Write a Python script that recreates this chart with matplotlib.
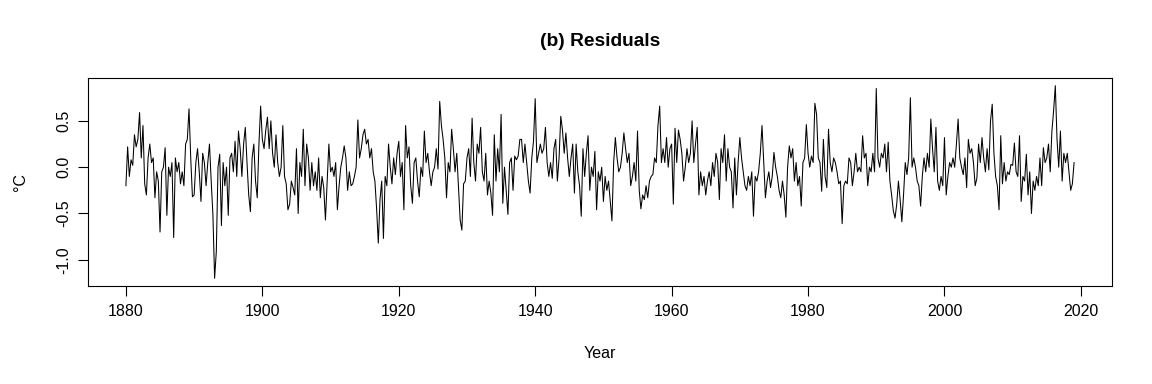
import numpy as np
import matplotlib
matplotlib.use("Agg")
import matplotlib.pyplot as plt

# Residuals (°C) at about four values per year, starting 1880.0
res_1880s = [-0.20, 0.22, -0.10, 0.08, 0.02, 0.35, 0.22, 0.30, 0.59, 0.10, 0.45, -0.18,
             -0.30, 0.10, 0.25, 0.05, 0.10, -0.33, -0.05, -0.15, -0.70, -0.05, 0.00, 0.21,
             -0.52, 0.00, -0.10, 0.05, -0.76, 0.10, -0.05, 0.05, -0.18, -0.05, -0.20, 0.25,
             0.30, 0.63, 0.10, -0.32]
res_1890s = [-0.30, 0.05, 0.20, -0.05, -0.37, 0.15, 0.05, -0.20, 0.05, 0.25, -0.15, -0.51,
             -1.20, -0.91, 0.00, 0.14, -0.63, 0.05, -0.20, 0.00, -0.52, 0.10, 0.15, -0.05,
             0.28, -0.10, 0.39, 0.20, -0.10, 0.25, 0.43, 0.05, -0.30, -0.48, 0.10, 0.25,
             -0.15, -0.33, 0.25, 0.66]
res_1900s = [0.30, 0.20, 0.40, 0.54, 0.20, 0.50, 0.15, 0.00, 0.35, 0.05, -0.10, 0.00,
             0.45, -0.10, -0.18, -0.46, -0.40, -0.15, -0.22, -0.30, 0.20, -0.50, 0.05, -0.10,
             0.41, -0.20, 0.25, 0.10, -0.25, 0.05, -0.20, -0.05, -0.25, 0.10, -0.33, -0.10,
             -0.22, -0.57, -0.15, 0.25]
res_1910s = [-0.05, 0.00, -0.10, 0.05, -0.46, -0.20, 0.00, 0.10, 0.23, 0.10, -0.25, -0.05,
             -0.20, -0.18, -0.10, 0.00, 0.51, 0.10, 0.20, 0.35, 0.41, 0.25, 0.30, 0.10,
             0.20, -0.05, -0.15, -0.45, -0.82, -0.35, -0.15, -0.77, -0.10, -0.20, 0.25, 0.00,
             -0.18, 0.10, -0.08, 0.15]
res_1920s = [0.28, -0.10, 0.05, -0.46, 0.45, 0.10, 0.22, -0.20, -0.39, 0.05, 0.10, -0.15,
             -0.32, 0.00, -0.10, 0.39, 0.05, 0.15, -0.05, -0.20, -0.05, 0.00, 0.20, -0.02,
             0.71, 0.45, 0.30, 0.10, -0.33, 0.05, -0.05, 0.41, 0.20, -0.05, 0.15, -0.20,
             -0.57, -0.68, -0.18, -0.15]
res_1930s = [0.10, 0.20, -0.10, 0.53, 0.05, -0.15, 0.25, 0.15, 0.43, -0.05, -0.15, 0.15,
             -0.30, -0.15, -0.28, -0.52, 0.35, -0.15, 0.20, -0.05, 0.57, -0.39, 0.00, -0.25,
             -0.51, 0.05, 0.10, -0.25, 0.12, 0.08, 0.12, 0.30, 0.30, 0.05, 0.25, 0.05,
             -0.15, -0.28, 0.10, 0.28]
res_1940s = [0.74, 0.05, 0.15, 0.25, 0.15, 0.20, 0.43, 0.05, -0.10, 0.05, -0.12, 0.20,
             0.30, -0.15, 0.10, 0.55, 0.40, 0.15, 0.37, 0.10, -0.10, 0.10, 0.25, -0.28,
             0.25, -0.05, -0.20, -0.53, 0.20, -0.10, 0.15, 0.34, -0.25, 0.00, -0.10, 0.17,
             -0.46, -0.05, -0.15, 0.00]
res_1950s = [-0.37, -0.10, -0.25, -0.15, -0.37, -0.58, 0.05, 0.32, 0.10, -0.05, 0.00, 0.15,
             0.37, 0.20, 0.05, 0.15, -0.20, -0.10, 0.05, -0.15, 0.39, -0.25, -0.45, -0.30,
             -0.35, -0.20, -0.33, -0.15, -0.10, -0.08, 0.10, 0.05, 0.45, 0.66, 0.05, 0.20,
             0.05, 0.32, 0.00, 0.20]
res_1960s = [0.25, -0.40, 0.42, 0.05, 0.40, 0.30, 0.15, -0.15, 0.00, 0.20, 0.05, 0.15,
             0.50, 0.05, 0.25, 0.43, -0.30, -0.05, -0.20, -0.10, -0.30, -0.15, -0.05, -0.20,
             0.05, -0.10, 0.15, 0.05, -0.35, 0.20, 0.05, 0.35, -0.15, 0.20, 0.00, -0.05,
             -0.44, 0.10, -0.30, 0.05]
res_1970s = [0.32, 0.10, -0.05, -0.20, -0.25, -0.10, -0.20, -0.05, -0.53, -0.10, -0.15, -0.05,
             0.15, 0.45, 0.05, -0.33, -0.15, -0.05, -0.22, -0.10, 0.16, 0.00, -0.10, -0.25,
             -0.33, -0.15, -0.30, -0.54, 0.00, 0.23, 0.10, 0.20, -0.15, 0.05, -0.20, -0.10,
             -0.42, 0.05, 0.10, 0.46]
res_1980s = [0.15, 0.00, 0.12, 0.05, 0.69, 0.57, 0.10, 0.05, -0.26, 0.30, -0.10, -0.22,
             0.41, 0.05, -0.05, 0.10, 0.05, -0.05, -0.18, -0.15, -0.61, -0.20, -0.15, -0.18,
             0.10, 0.05, -0.20, -0.05, 0.15, -0.05, 0.00, -0.05, 0.34, 0.10, 0.15, -0.20,
             0.00, -0.05, 0.15, -0.05]
res_1990s = [0.85, 0.10, 0.00, 0.15, 0.10, 0.25, -0.05, 0.27, -0.15, -0.30, -0.47, -0.55,
             -0.40, -0.15, -0.35, -0.59, -0.30, 0.05, -0.08, 0.10, 0.75, 0.00, 0.10, 0.00,
             -0.15, -0.20, -0.42, -0.10, 0.10, -0.05, 0.15, 0.00, 0.52, 0.20, -0.05, 0.43,
             -0.15, -0.25, -0.10, -0.20]
res_2000s = [0.32, -0.30, -0.10, 0.05, 0.00, 0.10, 0.00, 0.25, 0.52, 0.10, 0.00, -0.08,
             0.10, -0.22, 0.30, 0.15, 0.20, 0.05, -0.20, -0.12, 0.25, 0.05, 0.32, 0.10,
             -0.05, 0.20, -0.03, 0.50, 0.68, 0.15, -0.10, -0.20, -0.46, 0.34, -0.18, 0.05,
             -0.15, -0.05, -0.08, 0.03]
res_2010s = [0.02, 0.26, -0.05, -0.10, 0.34, -0.37, -0.10, -0.15, 0.14, -0.30, -0.05, -0.50,
             -0.15, -0.25, -0.10, -0.20, 0.10, -0.20, 0.21, 0.05, 0.10, 0.25, -0.05, 0.39,
             0.61, 0.88, 0.30, 0.00, 0.39, -0.15, 0.15, 0.05, 0.15, -0.05, -0.25, -0.18,
             0.05]

start_year = 1880.0
step = 0.25
x_ticks = [1880, 1900, 1920, 1940, 1960, 1980, 2000, 2020]
y_ticks = [-1.0, -0.5, 0.0, 0.5]
y_tick_labels = ["-1.0", "-0.5", "0.0", "0.5"]

residuals = np.array(res_1880s + res_1890s + res_1900s + res_1910s + res_1920s +
                     res_1930s + res_1940s + res_1950s + res_1960s + res_1970s +
                     res_1980s + res_1990s + res_2000s + res_2010s)
years = start_year + step * np.arange(len(residuals))

plt.rcParams['font.family'] = ['Liberation Sans', 'DejaVu Sans']
plt.rcParams['axes.unicode_minus'] = False

W, H = 1152, 384
fig = plt.figure(figsize=(W / 100, H / 100), dpi=100)
ax = fig.add_axes([88 / W, 1 - 286 / H, (1112 - 88) / W, (286 - 78) / H])

ax.plot(years, residuals, color='black', lw=0.75)

def rlim(v):
    lo, hi = float(np.min(v)), float(np.max(v))
    d = 0.04 * (hi - lo)
    return lo - d, hi + d

ax.set_xlim(*rlim(years))
ax.set_ylim(*rlim(residuals))

ax.set_xticks(x_ticks)
ax.set_xticklabels([str(t) for t in x_ticks])
ax.set_yticks(y_ticks)
ax.set_yticklabels(y_tick_labels)

for s in ax.spines.values():
    s.set_linewidth(0.8)
    s.set_color('black')

ax.tick_params(axis='both', direction='out', length=7.2, width=0.8, labelsize=11.5,
               colors='black')
ax.tick_params(axis='x', pad=5.5)
ax.tick_params(axis='y', pad=5.0)
for lab in ax.get_yticklabels():
    lab.set_rotation(90)
    lab.set_va('center')
    lab.set_ha('right')

fig.text(600 / W, 1 - 41 / H, "(b) Residuals", ha='center', va='center',
         fontsize=13.8, fontweight='bold')
fig.text(600 / W, 1 - 353 / H, "Year", ha='center', va='center', fontsize=11.5)
fig.text(21 / W, 1 - 182 / H, "°C", ha='center', va='center', fontsize=11.5, rotation=90)

fig.savefig("out.png", dpi=100)
